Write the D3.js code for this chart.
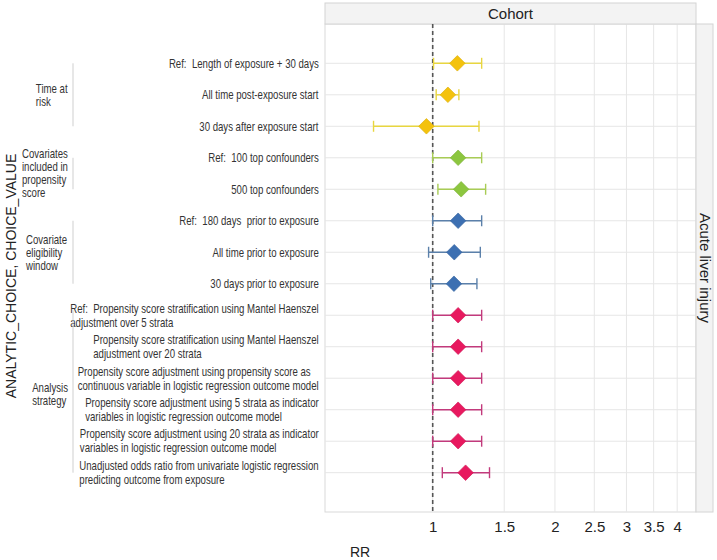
<!DOCTYPE html>
<html><head><meta charset="utf-8">
<script src="https://cdn.jsdelivr.net/npm/d3@7"></script>
<style>
body{margin:0;background:#fff;}
svg{display:block;}
.lbl{font-family:"Liberation Sans",Arial,sans-serif;font-size:12.5px;fill:#333;white-space:pre;}
</style></head>
<body>
<script>
// ---- data ----
const choiceLabels = [
  "Ref:  Length of exposure + 30 days",
  "All time post-exposure start",
  "30 days after exposure start",
  "Ref:  100 top confounders",
  "500 top confounders",
  "Ref:  180 days  prior to exposure",
  "All time prior to exposure",
  "30 days prior to exposure",
  "Ref:  Propensity score stratification using Mantel Haenszel|adjustment over 5 strata",
  "Propensity score stratification using Mantel Haenszel|adjustment over 20 strata",
  "Propensity score adjustment using propensity score as|continuous variable in logistic regression outcome model",
  "Propensity score adjustment using 5 strata as indicator|variables in logistic regression outcome model",
  "Propensity score adjustment using 20 strata as indicator|variables in logistic regression outcome model",
  "Unadjusted odds ratio from univariate logistic regression|predicting outcome from exposure"
];
const groupNames = ["Time at|risk", "Covariates|included in|propensity|score", "Covariate|eligibility|window", "Analysis|strategy"];
const groupOf = [0,0,0,1,1,2,2,2,3,3,3,3,3,3];
const rr    = [1.15, 1.09, 0.965, 1.155, 1.175, 1.155, 1.13, 1.128, 1.155, 1.155, 1.155, 1.155, 1.155, 1.205];
const lower = [1.005, 1.02, 0.715, 1.0, 1.03, 1.0, 0.977, 0.989, 1.0, 1.0, 1.0, 1.0, 1.0, 1.056];
const upper = [1.32, 1.16, 1.30, 1.32, 1.35, 1.32, 1.31, 1.285, 1.32, 1.32, 1.32, 1.32, 1.32, 1.38];
const xTicks = [1, 1.5, 2, 2.5, 3, 3.5, 4];
const groupFill = ["#f4c20d", "#8cc63f", "#3d70b2", "#e8195f"];
const groupStroke = ["#e8d640", "#a8cc55", "#5b80aa", "#c23a7c"];
const facetCol = "Cohort";
const facetRow = "Acute liver injury";

// ---- layout ----
const W = 717, H = 560;
const P = {l: 325, r: 696, t: 24, b: 512};
const svg = d3.select("body").append("svg").attr("width", W).attr("height", H);

const x = d3.scaleLog().domain([0.543, 4.45]).range([P.l, P.r]);
const y = d3.scalePoint().domain(d3.range(choiceLabels.length)).range([63.3, 472.7]);

// panel background
svg.append("rect").attr("x", P.l).attr("y", P.t).attr("width", P.r - P.l).attr("height", P.b - P.t)
  .attr("fill", "#fff").attr("stroke", "#d9d9d9");

// grid
const grid = svg.append("g");
grid.selectAll(".vg").data(xTicks).join("line")
  .attr("x1", d => x(d)).attr("x2", d => x(d)).attr("y1", P.t).attr("y2", P.b)
  .attr("stroke", "#e6e6e6").attr("stroke-width", 1);
grid.selectAll(".hg").data(y.domain()).join("line")
  .attr("x1", P.l).attr("x2", P.r).attr("y1", d => y(d)).attr("y2", d => y(d))
  .attr("stroke", "#e6e6e6").attr("stroke-width", 1);

// header strip
svg.append("rect").attr("x", P.l).attr("y", 3).attr("width", P.r - P.l).attr("height", P.t - 3)
  .attr("fill", "#f3f3f3").attr("stroke", "#d4d4d4");
svg.append("text").attr("x", (P.l + P.r) / 2).attr("y", 19).attr("text-anchor", "middle")
  .style("font-family", "'Liberation Sans',Arial,sans-serif").style("font-size", "15px").attr("fill", "#222")
  .text(facetCol);

// right strip
svg.append("rect").attr("x", P.r).attr("y", P.t).attr("width", 17).attr("height", P.b - P.t)
  .attr("fill", "#f3f3f3").attr("stroke", "#d4d4d4");
svg.append("text").attr("transform", `translate(${P.r + 4},${(P.t + P.b) / 2}) rotate(90)`)
  .attr("text-anchor", "middle")
  .style("font-family", "'Liberation Sans',Arial,sans-serif").style("font-size", "15px").attr("fill", "#222")
  .text(facetRow);

// reference line at 1
svg.append("line").attr("x1", x(1)).attr("x2", x(1)).attr("y1", P.t).attr("y2", P.b)
  .attr("stroke", "#555").attr("stroke-width", 1.6).attr("stroke-dasharray", "4,3");

// error bars
const idx = d3.range(choiceLabels.length);
const eb = svg.append("g").selectAll("g").data(idx).join("g");
eb.append("line").attr("x1", i => x(lower[i])).attr("x2", i => x(upper[i]))
  .attr("y1", i => y(i)).attr("y2", i => y(i)).attr("stroke", i => groupStroke[groupOf[i]]).attr("stroke-width", 1.4);
eb.append("line").attr("x1", i => x(lower[i])).attr("x2", i => x(lower[i]))
  .attr("y1", i => y(i) - 5.5).attr("y2", i => y(i) + 5.5).attr("stroke", i => groupStroke[groupOf[i]]).attr("stroke-width", 1.4);
eb.append("line").attr("x1", i => x(upper[i])).attr("x2", i => x(upper[i]))
  .attr("y1", i => y(i) - 5.5).attr("y2", i => y(i) + 5.5).attr("stroke", i => groupStroke[groupOf[i]]).attr("stroke-width", 1.4);

// diamonds
svg.append("g").selectAll("path").data(idx).join("path")
  .attr("transform", i => `translate(${x(rr[i])},${y(i)}) rotate(45)`)
  .attr("d", "M-5.5,-5.5L5.5,-5.5L5.5,5.5L-5.5,5.5Z")
  .attr("fill", i => groupFill[groupOf[i]]).attr("stroke", i => d3.color(groupFill[groupOf[i]]).darker(0.3)).attr("stroke-width", 0.6);

// x axis
const xa = svg.append("g").attr("transform", `translate(0,${P.b})`)
  .call(d3.axisBottom(x).tickValues(xTicks).tickFormat(d3.format("")).tickSize(0).tickPadding(9));
xa.select(".domain").remove();
xa.selectAll("text").style("font-family", "'Liberation Sans',Arial,sans-serif").style("font-size", "15px").attr("fill", "#222");

svg.append("text").attr("x", 360).attr("y", 557).attr("text-anchor", "middle")
  .style("font-family", "'Liberation Sans',Arial,sans-serif").style("font-size", "14px").attr("fill", "#222").text("RR");

// y axis title
svg.append("text").attr("transform", `translate(16,276) rotate(-90)`).attr("text-anchor", "middle")
  .style("font-family", "'Liberation Sans',Arial,sans-serif").style("font-size", "14px").attr("fill", "#222")
  .text("ANALYTIC_CHOICE, CHOICE_VALUE");

// choice labels: block right-aligned, lines left-aligned, horizontally condensed
const SX = 0.77;
function block(g, str, rightX, cy, lh) {
  const lines = str.split("|");
  const t = g.append("text").attr("class", "lbl").attr("xml:space", "preserve");
  const n = lines.length;
  lines.forEach((s, k) => {
    t.append("tspan").attr("x", 0).attr("y", cy + (k - (n - 1) / 2) * lh + 4.3).text(s);
  });
  const w = t.node().getBBox().width * SX;
  t.attr("transform", `translate(${rightX - w},0) scale(${SX},1)`);
}
const lg = svg.append("g");
idx.forEach(i => block(lg, choiceLabels[i], 319, y(i), 14));

// group labels and brackets
const gg = svg.append("g");
groupNames.forEach((g, k) => {
  const rows = idx.filter(i => groupOf[i] === k);
  const y0 = y(rows[0]), y1 = y(rows[rows.length - 1]);
  let top = y0, bot = y1;
  if (k === 3) top = y0 - 5;
  gg.append("line").attr("x1", 73).attr("x2", 73).attr("y1", top).attr("y2", bot)
    .attr("stroke", "#cfcfcf").attr("stroke-width", 1);
  block(gg, g, 68, (y0 + y1) / 2, 13);
});
</script>
</body></html>
